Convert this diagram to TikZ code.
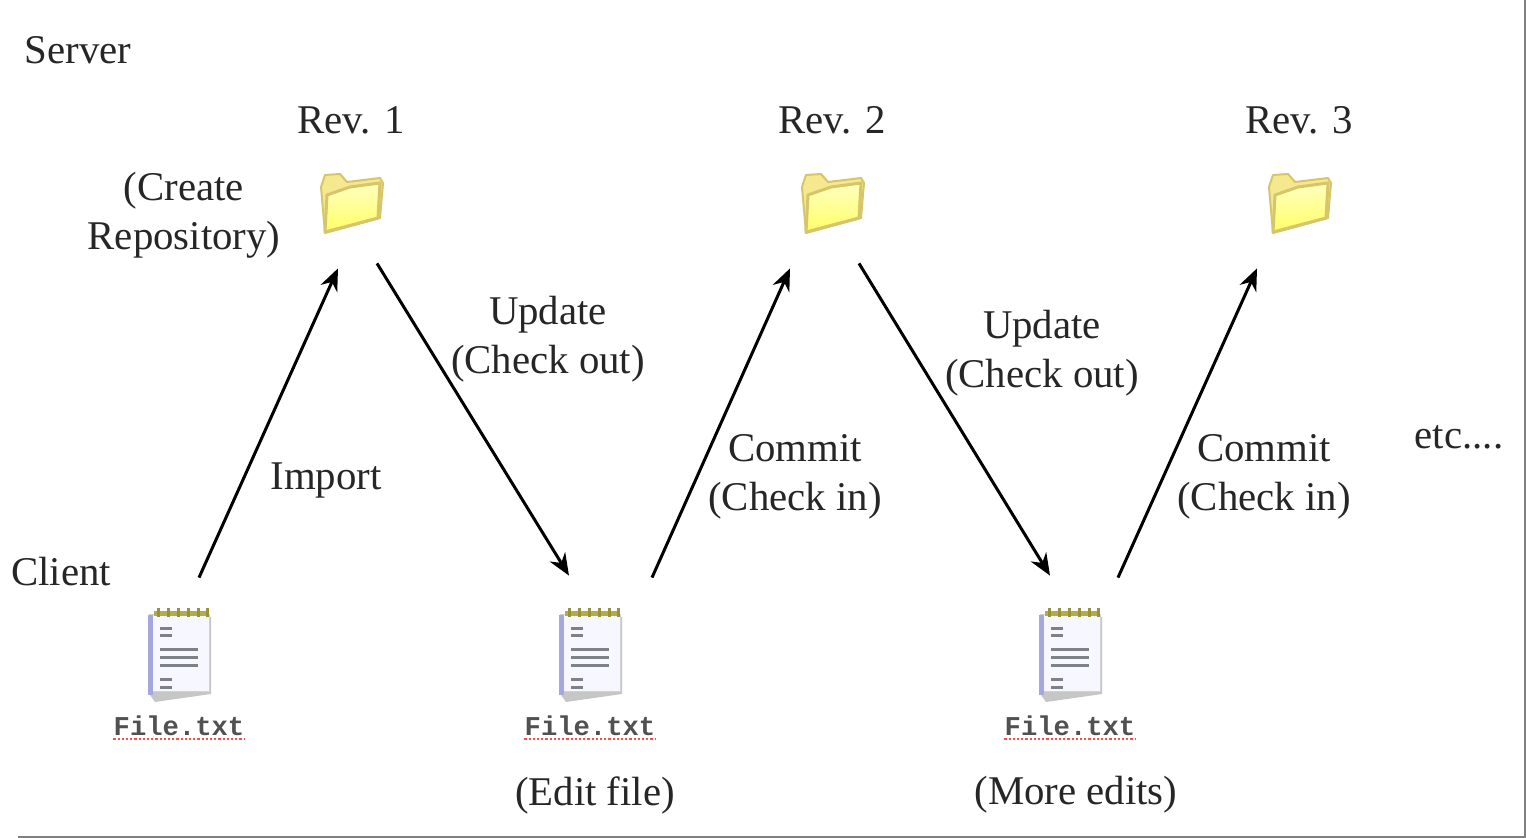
\documentclass[tikz,border=0pt]{standalone}
\usepackage{fontspec}
\setmainfont{Liberation Serif}
\setmonofont{Liberation Mono}
\usetikzlibrary{arrows.meta}

\definecolor{inkgray}{HTML}{262626}
\definecolor{foldline}{HTML}{D6C569}
\definecolor{foldback}{HTML}{F6E88F}
\definecolor{padblue}{HTML}{A4A8DE}
\definecolor{padlines}{HTML}{7C8286}
\definecolor{spiral}{HTML}{B4AC48}

\tikzset{
    foldericon/.pic = {
        % Back of the folder with its tab
        \fill[foldback, draw=foldline, line width=1pt, line join=round]
            (-30,-16) -- (-26,-28) -- (-11,-29) -- (-4,-21) -- (29,-25) -- (32,-20)
            -- (29,15) -- (-26,30) -- cycle;
        % Front of the folder
        \shade[top color=white!75!yellow, bottom color=yellow!60!white, draw=foldline, line width=1.5pt, line join=round]
            (-24,-8) -- (-1,-16) -- (29,-20) -- (27,15) -- (-26,29) -- cycle;
    },
    padicon/.pic = {
        % Shadow and page
        \fill[gray!45] (-30,40) -- (-25,47) -- (31,39) -- (31,-38) -- (27,-38) -- cycle;
        \fill[white!97!blue, draw=gray!35, line width=0.5pt] (-31,-40) rectangle (29,37);
        \fill[padblue] (-32,-40) rectangle (-27,40);
        % Spiral along the top
        \draw[spiral, line width=2.5pt] (-26,-41) -- (28,-41);
        \foreach \sx in {-22,-12,-2,8,18,27}
            \draw[spiral!85!black, line width=1.5pt] (\sx,-47) -- (\sx,-38);
        % Written lines
        \foreach \ly in {-26,-19,25,33}
            \draw[padlines, line width=1.5pt] (-20,\ly) -- (-8,\ly);
        \foreach \ly in {-5,3,11}
            \draw[padlines, line width=1.5pt] (-20,\ly) -- (18,\ly);
    }
}

\begin{document}
\begin{tikzpicture}[x=0.5pt, y=-0.5pt]
    % Define node styles
    \tikzstyle{txt} = [inner sep=0pt, align=center, text=inkgray, font=\fontsize{20.4}{24.6}\selectfont]
    \tikzstyle{fname} = [inner sep=0pt, text=inkgray!80, font=\ttfamily\bfseries\fontsize{13.6}{14}\selectfont]
    \tikzstyle{iconbox} = [inner sep=0pt, minimum width=32pt]
    \tikzstyle{flow} = [-{Stealth[length=11pt, width=9pt]}, line width=1.5pt, black]
    \tikzstyle{squiggle} = [red!70!white, line width=1.1pt, densely dotted]

    \useasboundingbox (0,0) rectangle (1526,838);
    \fill[white] (0,0) rectangle (1526,838);

    % Frame on the right and at the bottom
    \draw[gray, line width=1.2pt] (18,837) -- (1525,837) -- (1525,0);

    % Folders on the server
    \node[iconbox, minimum height=32pt] (rev1) at (351,203) {};
    \node[iconbox, minimum height=32pt] (rev2) at (832,203) {};
    \node[iconbox, minimum height=32pt] (rev3) at (1299,203) {};
    \pic at (rev1) {foldericon};
    \pic at (rev2) {foldericon};
    \pic at (rev3) {foldericon};

    % Files on the client
    \node[iconbox, minimum height=45pt] (file1) at (180,655) {};
    \node[iconbox, minimum height=45pt] (file2) at (591,655) {};
    \node[iconbox, minimum height=45pt] (file3) at (1071,655) {};
    \pic at (file1) {padicon};
    \pic at (file2) {padicon};
    \pic at (file3) {padicon};

    % File names with their red underline
    \node[fname] (name1) at (179,726) {File.txt};
    \node[fname] (name2) at (590,726) {File.txt};
    \node[fname] (name3) at (1070,726) {File.txt};
    \draw[squiggle] ([yshift=-1.5pt]name1.south west) -- ([yshift=-1.5pt]name1.south east);
    \draw[squiggle] ([yshift=-1.5pt]name2.south west) -- ([yshift=-1.5pt]name2.south east);
    \draw[squiggle] ([yshift=-1.5pt]name3.south west) -- ([yshift=-1.5pt]name3.south east);

    % Arrows between client and server
    \draw[flow] ([shift={(19,-32)}]file1.north) -- ([shift={(-13,33)}]rev1.south);
    \draw[flow] ([shift={(26,28)}]rev1.south) -- ([shift={(-22,-34)}]file2.north);
    \draw[flow] ([shift={(61,-32)}]file2.north) -- ([shift={(-42,33)}]rev2.south);
    \draw[flow] ([shift={(27,28)}]rev2.south) -- ([shift={(-21,-34)}]file3.north);
    \draw[flow] ([shift={(47,-32)}]file3.north) -- ([shift={(-42,33)}]rev3.south);

    % Add labels
    \node[txt] (server) at (78,50) {Server};
    \node[txt] (client) at (61,572) {Client};
    \node[txt] (rev1lab) at (351,120) {Rev. 1};
    \node[txt] (rev2lab) at (832,120) {Rev. 2};
    \node[txt] (rev3lab) at (1299,120) {Rev. 3};
    \node[txt] (create) at (184,215) {(Create\\Repository)};
    \node[txt] (import) at (326,480) {Import};
    \node[txt] (update1) at (548,339) {Update\\(Check out)};
    \node[txt] (commit1) at (795,477) {Commit\\(Check in)};
    \node[txt] (update2) at (1042,353) {Update\\(Check out)};
    \node[txt] (commit2) at (1264,477) {Commit\\(Check in)};
    \node[txt] (etc) at (1459,437) {etc....};
    \node[txt] (edit) at (595,795) {(Edit file)};
    \node[txt] (more) at (1076,795) {(More edits)};
\end{tikzpicture}
\end{document}
